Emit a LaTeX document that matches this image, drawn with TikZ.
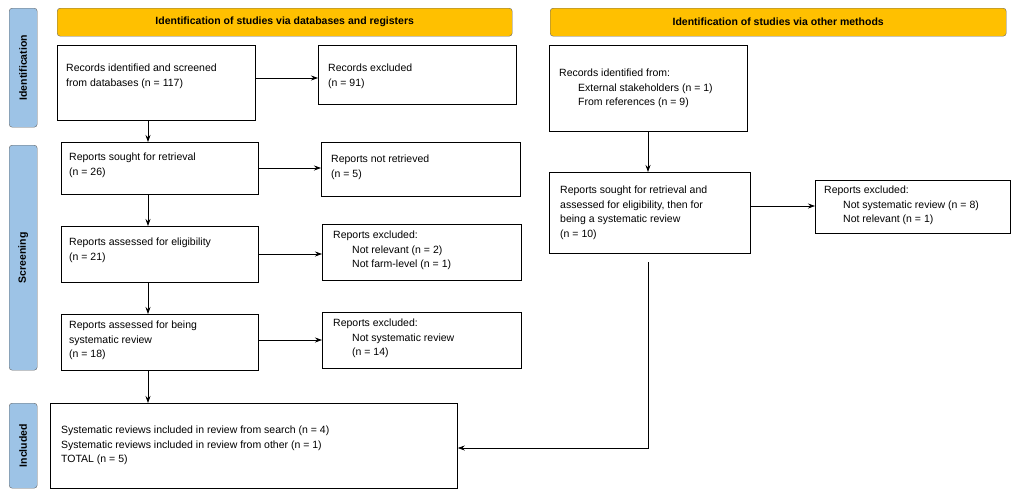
\documentclass[tikz,border=0pt]{standalone}
\usepackage{fontspec}
\setmainfont{Liberation Sans}
\usetikzlibrary{arrows.meta}
\definecolor{hdr}{HTML}{FFC000}
\definecolor{side}{HTML}{9DC3E6}
\begin{document}
\begin{tikzpicture}[x=1pt,y=-1pt,
  box/.style={draw,line width=0.8pt,anchor=north west,inner sep=0},
  txt/.style={anchor=north west,inner sep=0,align=left,font=\fontsize{10.5}{14.5}\selectfont},
  hd/.style={draw=black!60,fill=hdr,rounded corners=3pt,anchor=north west,inner sep=0,font=\fontsize{10.5}{13}\selectfont\bfseries},
  sd/.style={draw=black!60,fill=side,rounded corners=3pt,anchor=north west,inner sep=0},
  sdt/.style={rotate=90,font=\fontsize{10.5}{13}\selectfont\bfseries},
  arr/.style={-{Stealth[length=7pt,width=5pt]},line width=0.7pt}]
\useasboundingbox (0,0) rectangle (1017,493);
\newcommand{\ind}{\hspace*{19pt}}
% headers
\node[hd,minimum width=455,minimum height=28] (h1) at (57,8) {Identification of studies via databases and registers};
\node[hd,minimum width=456,minimum height=28] (h2) at (550,8) {Identification of studies via other methods};
% side bars
\node[sd,minimum width=28,minimum height=119] (s1) at (9,8) {};
\node[sdt] at (s1.center) {Identification};
\node[sd,minimum width=28,minimum height=225] (s2) at (9,145) {};
\node[sdt] at (s2.center) {Screening};
\node[sd,minimum width=28,minimum height=85] (s3) at (9,403) {};
\node[sdt] at (s3.center) {Included};
% boxes
\node[box,minimum width=198,minimum height=75] (a1) at (57,45) {};
\node[txt] at (66,64) {Records identified and screened\\from databases (n = 117)};
\node[box,minimum width=198,minimum height=59] (b1) at (318,45) {};
\node[txt] at (328,64) {Records excluded\\(n = 91)};
\node[box,minimum width=197,minimum height=52] (a2) at (61,142) {};
\node[txt] at (69,153) {Reports sought for retrieval\\(n = 26)};
\node[box,minimum width=199,minimum height=54] (b2) at (321,142) {};
\node[txt] at (331,155) {Reports not retrieved\\(n = 5)};
\node[box,minimum width=197,minimum height=56] (a3) at (61,226) {};
\node[txt] at (69,238) {Reports assessed for eligibility\\(n = 21)};
\node[box,minimum width=199,minimum height=56] (b3) at (322,224) {};
\node[txt] at (333,231) {Reports excluded:\\\ind Not relevant (n = 2)\\\ind Not farm-level (n = 1)};
\node[box,minimum width=197,minimum height=56] (a4) at (61,314) {};
\node[txt] at (69,321) {Reports assessed for being\\systematic review\\(n = 18)};
\node[box,minimum width=199,minimum height=56] (b4) at (322,312) {};
\node[txt] at (333,319) {Reports excluded:\\\ind Not systematic review\\\ind (n = 14)};
\node[box,minimum width=407,minimum height=85] (inc) at (50,403) {};
\node[txt] at (61,426) {Systematic reviews included in review from search (n = 4)\\Systematic reviews included in review from other (n = 1)\\TOTAL (n = 5)};
\node[box,minimum width=198,minimum height=86] (r1) at (549,45) {};
\node[txt] at (559,69) {Records identified from:\\\ind External stakeholders (n = 1)\\\ind From references (n = 9)};
\node[box,minimum width=201,minimum height=81] (r2) at (549,172) {};
\node[txt] at (560,186) {Reports sought for retrieval and\\assessed for eligibility, then for\\being a systematic review\\(n = 10)};
\node[box,minimum width=195,minimum height=53] (r3) at (815,180) {};
\node[txt] at (824,186) {Reports excluded:\\\ind Not systematic review (n = 8)\\\ind Not relevant (n = 1)};
% arrows
\draw[arr] (a1.south -| 148,0) -- (a2.north -| 148,0);
\draw[arr] (a2.south -| 148,0) -- (a3.north -| 148,0);
\draw[arr] (a3.south -| 148,0) -- (a4.north -| 148,0);
\draw[arr] (a4.south -| 148,0) -- (inc.north -| 148,0);
\draw[arr] (a1.east |- 0,78) -- (b1.west |- 0,78);
\draw[arr] (a2.east |- 0,168) -- (b2.west |- 0,168);
\draw[arr] (a3.east |- 0,254) -- (b3.west |- 0,254);
\draw[arr] (a4.east |- 0,340) -- (b4.west |- 0,340);
\draw[arr] (r1.south -| 648,0) -- (r2.north -| 648,0);
\draw[arr] (r2.east |- 0,206) -- (r3.west |- 0,206);
\coordinate (c1) at (648,262);
\draw[arr] (c1) -- (648,448) -- (inc.east |- 0,448);
\end{tikzpicture}
\end{document}
